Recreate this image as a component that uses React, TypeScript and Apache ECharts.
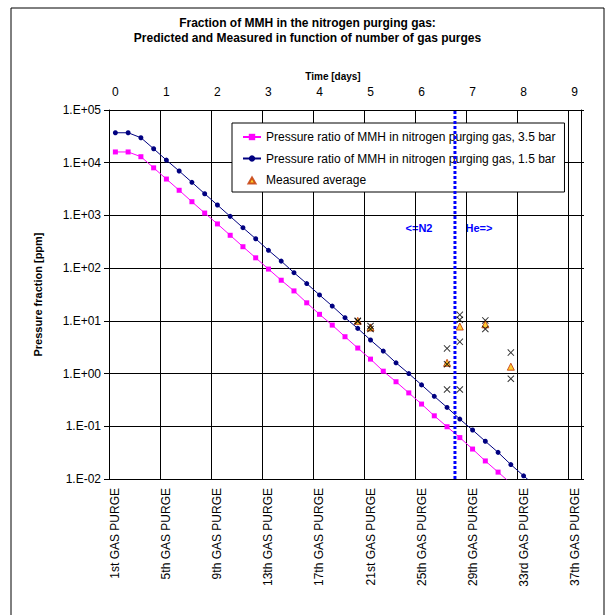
import React, { useEffect, useRef } from 'react';
import * as echarts from 'echarts';

// Bottom category axis: one category per gas purge
const purgeLabels = [
  '1st GAS PURGE', '2nd GAS PURGE', '3rd GAS PURGE', '4th GAS PURGE', '5th GAS PURGE',
  '6th GAS PURGE', '7th GAS PURGE', '8th GAS PURGE', '9th GAS PURGE', '10th GAS PURGE',
  '11th GAS PURGE', '12th GAS PURGE', '13th GAS PURGE', '14th GAS PURGE', '15th GAS PURGE',
  '16th GAS PURGE', '17th GAS PURGE', '18th GAS PURGE', '19th GAS PURGE', '20th GAS PURGE',
  '21st GAS PURGE', '22nd GAS PURGE', '23rd GAS PURGE', '24th GAS PURGE', '25th GAS PURGE',
  '26th GAS PURGE', '27th GAS PURGE', '28th GAS PURGE', '29th GAS PURGE', '30th GAS PURGE',
  '31st GAS PURGE', '32nd GAS PURGE', '33rd GAS PURGE', '34th GAS PURGE', '35th GAS PURGE',
  '36th GAS PURGE', '37th GAS PURGE',
];

// Top axis: time in days (one day every 4 purges)
const dayLabels = ['0', '1', '2', '3', '4', '5', '6', '7', '8', '9'];
const purgesPerDay = 4;

// Predicted pressure ratio [ppm]
const ratio35bar = [
  16000, 16000, 13000, 8000, 4900, 3000, 1820, 1110, 690, 420,
  255, 157, 96, 59, 37, 22, 13.3, 8.3, 5.0, 3.05,
  1.88, 1.11, 0.70, 0.43, 0.264, 0.158, 0.098, 0.061, 0.037, 0.022,
  0.0135, 0.0083,
];
const ratio15bar = [
  37000, 37000, 29800, 18400, 11200, 6960, 4250, 2580, 1575, 960,
  585, 361, 218, 136, 82, 51, 31, 19.1, 11.5, 7.2,
  4.33, 2.67, 1.6, 1.0, 0.61, 0.37, 0.228, 0.137, 0.085, 0.052,
  0.032, 0.0188, 0.0115, 0.0071,
];

// Measurements (category index of the purge)
const measuredPurgeIndex = [19, 20, 26, 27, 29, 31];
const measuredAverage = [10, 7.5, 1.6, 7.8, 8.6, 1.35];
const measuredSamples = [
  [10, 9.8],
  [8, 7],
  [3, 1.5, 0.5],
  [13, 10.5, 4, 0.5],
  [10.2, 7],
  [2.5, 0.8],
];

// N2 -> He switch, in purge units from the left edge of the axis
const gasSwitchPosition = 27.12;

const yMin = 0.01;
const yMax = 100000;

const FONT = "'Liberation Sans', Arial, sans-serif";
const CROSS = 'path://M0,1L1,0L5,4L9,0L10,1L6,5L10,9L9,10L5,6L1,10L0,9L4,5Z';
// small triangle inside an 18x8 legend icon box
const LEGEND_TRIANGLE = 'path://M0,0L0,0M18,8L18,8M5.5,7.5L9,1.5L12.5,7.5Z';

const NAME_35 = 'Pressure ratio of MMH in nitrogen purging gas, 3.5 bar';
const NAME_15 = 'Pressure ratio of MMH in nitrogen purging gas, 1.5 bar';
const NAME_AVG = 'Measured average';

const fmtExp = (v: number) => {
  const e = Math.round(Math.log10(v));
  return '1.E' + (e < 0 ? '-' : '+') + String(Math.abs(e)).padStart(2, '0');
};

export default function App() {
  const ref = useRef<HTMLDivElement>(null);

  useEffect(() => {
    if (!ref.current) return;
    const chart = echarts.init(ref.current, undefined, { renderer: 'svg' });

    const topData = purgeLabels.map((_, i) =>
      i % purgesPerDay === 0 ? dayLabels[i / purgesPerDay] ?? '' : ''
    );

    const avgData = measuredPurgeIndex.map((idx, k) => [idx, measuredAverage[k]]);
    const sampleData: number[][] = [];
    measuredPurgeIndex.forEach((idx, k) => {
      measuredSamples[k].forEach((v) => sampleData.push([idx, v]));
    });

    const option: any = {
      animation: false,
      backgroundColor: '#ffffff',
      title: {
        text: 'Fraction of MMH in the nitrogen purging gas:\nPredicted and Measured in function of number of gas purges',
        left: 'center',
        top: 10,
        textStyle: {
          fontFamily: FONT,
          fontSize: 12,
          fontWeight: 'bold',
          color: '#000',
          lineHeight: 15,
        },
      },
      graphic: [
        {
          type: 'rect',
          silent: true,
          shape: { x: 11, y: 8, width: 593, height: 620 },
          style: { fill: 'none', stroke: '#000', lineWidth: 1 },
        },
        {
          type: 'text',
          silent: true,
          x: 419,
          y: 228,
          style: {
            text: '<=N2',
            fill: '#0000FF',
            font: `bold 11px ${FONT}`,
            align: 'center',
            verticalAlign: 'middle',
          },
        },
        {
          type: 'text',
          silent: true,
          x: 479,
          y: 228,
          style: {
            text: 'He=>',
            fill: '#0000FF',
            font: `bold 11px ${FONT}`,
            align: 'center',
            verticalAlign: 'middle',
          },
        },
      ],
      legend: {
        data: [NAME_35, NAME_15, { name: NAME_AVG, icon: LEGEND_TRIANGLE }],
        orient: 'vertical',
        left: 232,
        top: 123,
        padding: [8, 9, 6, 10],
        itemGap: 9.5,
        itemWidth: 18,
        itemHeight: 8,
        backgroundColor: '#fff',
        borderColor: '#000',
        borderWidth: 1,
        textStyle: { fontFamily: FONT, fontSize: 12, color: '#000' },
      },
      grid: { left: 109, top: 110, width: 472, height: 369 },
      xAxis: [
        {
          type: 'category',
          data: purgeLabels,
          position: 'bottom',
          boundaryGap: true,
          axisLine: { lineStyle: { color: '#000', width: 1 } },
          axisTick: { interval: 3, length: 5, lineStyle: { color: '#000' } },
          axisLabel: {
            interval: 3,
            rotate: 90,
            fontFamily: FONT,
            fontSize: 12,
            color: '#000',
            margin: 9,
          },
          splitLine: { show: true, interval: 3, lineStyle: { color: '#000', width: 1 } },
        },
        {
          type: 'category',
          data: topData,
          position: 'top',
          boundaryGap: true,
          name: 'Time [days]',
          nameLocation: 'middle',
          nameGap: 29,
          nameTextStyle: {
            fontFamily: FONT,
            fontSize: 10,
            fontWeight: 'bold',
            color: '#000',
            padding: [0, 24, 0, 0],
          },
          axisLine: { lineStyle: { color: '#000', width: 1 } },
          axisTick: { interval: 3, length: 5, lineStyle: { color: '#000' } },
          axisLabel: {
            interval: 3,
            fontFamily: FONT,
            fontSize: 12,
            color: '#000',
            margin: 12,
          },
          splitLine: { show: false },
        },
        {
          type: 'value',
          min: 0,
          max: purgeLabels.length,
          show: false,
        },
      ],
      yAxis: [
        {
          type: 'log',
          logBase: 10,
          min: yMin,
          max: yMax,
          name: 'Pressure fraction [ppm]',
          nameLocation: 'middle',
          nameRotate: 90,
          nameGap: 66,
          nameTextStyle: {
            fontFamily: FONT,
            fontSize: 11,
            fontWeight: 'bold',
            color: '#000',
          },
          axisLine: { show: true, lineStyle: { color: '#000', width: 1 } },
          axisTick: { show: true, length: 5, lineStyle: { color: '#000' } },
          axisLabel: {
            fontFamily: FONT,
            fontSize: 12,
            color: '#000',
            margin: 8,
            formatter: fmtExp,
          },
          splitLine: { show: true, lineStyle: { color: '#000', width: 1 } },
          minorTick: { show: false },
        },
        {
          type: 'log',
          logBase: 10,
          min: yMin,
          max: yMax,
          position: 'right',
          axisLine: { show: true, lineStyle: { color: '#000', width: 1 } },
          axisTick: { show: true, length: 3, lineStyle: { color: '#000' } },
          axisLabel: { show: false },
          splitLine: { show: false },
        },
      ],
      series: [
        {
          name: NAME_35,
          type: 'line',
          xAxisIndex: 0,
          yAxisIndex: 0,
          data: ratio35bar,
          symbol: 'rect',
          symbolSize: 5,
          showAllSymbol: true,
          lineStyle: { color: '#FF00FF', width: 1 },
          itemStyle: { color: '#FF00FF' },
          z: 3,
        },
        {
          name: NAME_15,
          type: 'line',
          xAxisIndex: 0,
          yAxisIndex: 0,
          data: ratio15bar,
          symbol: 'circle',
          symbolSize: 5,
          showAllSymbol: true,
          lineStyle: { color: '#000080', width: 1 },
          itemStyle: { color: '#000080' },
          z: 3,
        },
        {
          name: 'N2/He switch',
          type: 'line',
          xAxisIndex: 2,
          yAxisIndex: 0,
          data: [
            [gasSwitchPosition, yMin],
            [gasSwitchPosition, yMax],
          ],
          symbol: 'none',
          silent: true,
          lineStyle: { color: '#0000FF', width: 3, type: [3, 2] },
          z: 4,
        },
        {
          name: NAME_AVG,
          type: 'scatter',
          xAxisIndex: 0,
          yAxisIndex: 0,
          data: avgData,
          symbol: 'triangle',
          symbolSize: 7,
          itemStyle: { color: '#FFC000', borderColor: '#C03000', borderWidth: 1 },
          z: 5,
        },
        {
          name: 'Measured samples',
          type: 'scatter',
          xAxisIndex: 0,
          yAxisIndex: 0,
          data: sampleData,
          symbol: CROSS,
          symbolSize: 7,
          itemStyle: { color: '#000' },
          z: 6,
        },
      ],
    };

    chart.setOption(option);
    return () => chart.dispose();
  }, []);

  return (
    <div
      ref={ref}
      style={{ position: 'absolute', left: 0, top: 0, width: 615, height: 615 }}
    />
  );
}
